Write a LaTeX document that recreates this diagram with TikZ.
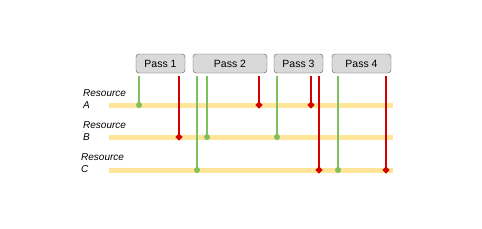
\documentclass[tikz,border=0pt]{standalone}
\usepackage{fontspec}
\setmainfont{Liberation Sans}
\usepackage{tikz}
\usetikzlibrary{arrows.meta,positioning,shapes.geometric,calc}
\definecolor{bandyellow}{HTML}{FFE599}
\definecolor{passgray}{HTML}{D9D9D9}
\definecolor{passedge}{HTML}{555555}
\definecolor{readgreen}{HTML}{7FBF5F}
\definecolor{writered}{HTML}{D40000}

\begin{document}
\begin{tikzpicture}[
        x=1pt,y=-1pt,
        pass/.style={draw=passedge,fill=passgray,rounded corners=3pt,font=\fontsize{10.5}{12}\selectfont,minimum height=19pt,inner sep=0pt},
        res/.style={font=\fontsize{10}{12}\selectfont\itshape,align=left,anchor=west,inner sep=0pt},
        band/.style={bandyellow,line width=5pt},
        rd/.style={readgreen,line width=1.3pt},
        wr/.style={writered,line width=1.3pt},
        rdot/.style={circle,fill=readgreen,inner sep=0pt,minimum size=6pt},
        wdot/.style={diamond,fill=writered,inner sep=0pt,minimum size=8pt}
      ]
      \useasboundingbox (0,0) rectangle (482,228);

      % passes
      \node[pass,minimum width=49pt] (p1) at (160.5,63.5) {Pass 1};
      \node[pass,minimum width=74pt] (p2) at (230,63.5) {Pass 2};
      \node[pass,minimum width=49pt] (p3) at (298.5,63.5) {Pass 3};
      \node[pass,minimum width=59pt] (p4) at (361.5,63.5) {Pass 4};

      % resources
      \node[res] (ra) at (83,99) {Resource\\A};
      \node[res] (rb) at (83,131) {Resource\\B};
      \node[res] (rc) at (81,163) {Resource\\C};
      \draw[band] (109,105) coordinate (a0) -- (393,105) coordinate (a9);
      \draw[band] (109,137) coordinate (b0) -- (393,137) coordinate (b9);
      \draw[band] (109,170) coordinate (c0) -- (393,170) coordinate (c9);

      % accesses
      \coordinate (x1) at (139,105);
      \coordinate (x2) at (179,137);
      \coordinate (x3) at (197,170);
      \coordinate (x4) at (207,137);
      \coordinate (x5) at (259,105);
      \coordinate (x6) at (277,137);
      \coordinate (x7) at (311,105);
      \coordinate (x8) at (319,170);
      \coordinate (x9) at (338,170);
      \coordinate (x10) at (386,170);

      \draw[rd] ([yshift=-3pt]p1.south -| x1) -- (x1) node[rdot]{};
      \draw[wr] ([yshift=-3pt]p1.south -| x2) -- (x2) node[wdot]{};
      \draw[rd] ([yshift=-3pt]p2.south -| x3) -- (x3) node[rdot]{};
      \draw[rd] ([yshift=-3pt]p2.south -| x4) -- (x4) node[rdot]{};
      \draw[wr] ([yshift=-3pt]p2.south -| x5) -- (x5) node[wdot]{};
      \draw[rd] ([yshift=-3pt]p3.south -| x6) -- (x6) node[rdot]{};
      \draw[wr] ([yshift=-3pt]p3.south -| x7) -- (x7) node[wdot]{};
      \draw[wr] ([yshift=-3pt]p3.south -| x8) -- (x8) node[wdot]{};
      \draw[rd] ([yshift=-3pt]p4.south -| x9) -- (x9) node[rdot]{};
      \draw[wr] ([yshift=-3pt]p4.south -| x10) -- (x10) node[wdot]{};
    \end{tikzpicture}
\end{document}
